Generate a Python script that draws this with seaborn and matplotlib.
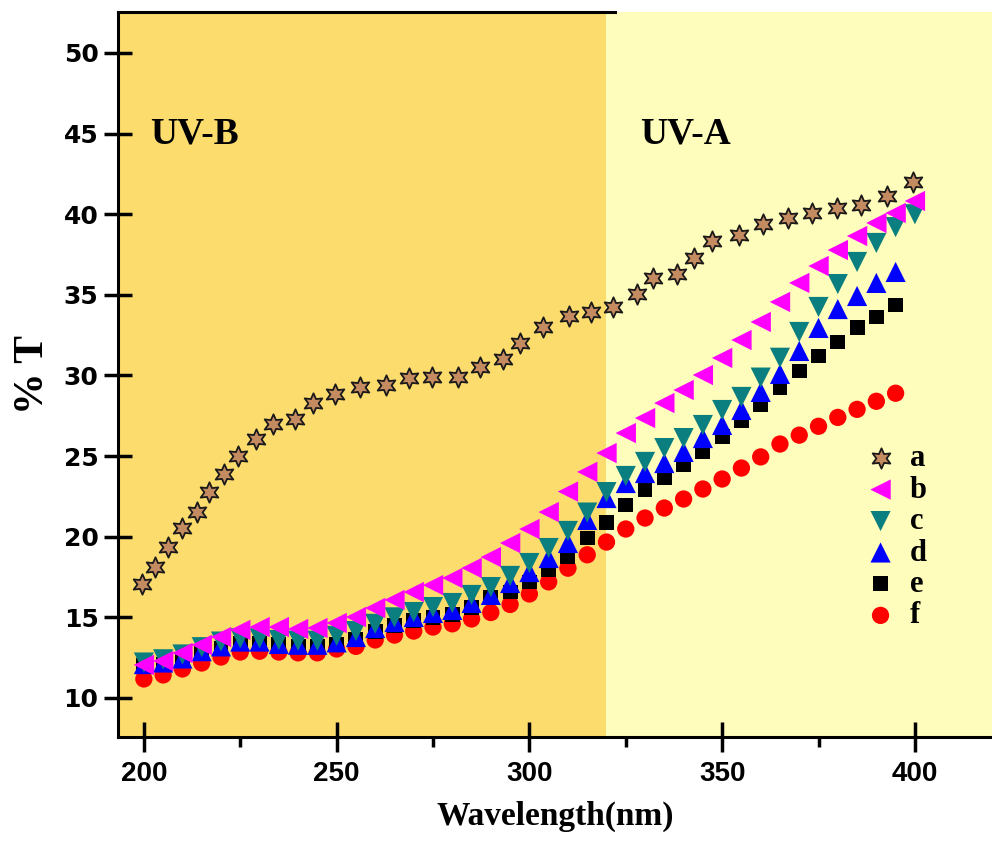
import numpy as np
import pandas as pd
import matplotlib
matplotlib.use("Agg")
import matplotlib.pyplot as plt
import seaborn as sns

# ---------------- data ----------------
wl_a = [199.4, 202.9, 206.2, 209.8, 213.7, 216.9, 220.8, 224.5, 229.0, 233.4,
        239.3, 243.8, 249.7, 256.0, 262.7, 268.8, 274.8, 281.4, 287.3, 293.2,
        297.5, 303.6, 310.2, 316.0, 321.7, 328.0, 332.1, 338.2, 342.7, 347.4,
        354.4, 360.5, 367.0, 373.4, 379.7, 386.0, 392.8, 399.4]
t_a = [17.07, 18.14, 19.34, 20.52, 21.51, 22.76, 23.89, 25.01, 26.04, 26.97,
       27.32, 28.31, 28.85, 29.28, 29.41, 29.86, 29.93, 29.93, 30.51, 31.0,
       32.03, 33.03, 33.71, 33.92, 34.27, 35.04, 36.03, 36.29, 37.31, 38.34,
       38.71, 39.4, 39.79, 40.06, 40.37, 40.57, 41.13, 42.02]

wl_400 = list(range(200, 401, 5))
wl_395 = list(range(200, 396, 5))

t_b = [12.05, 12.29, 12.79, 13.29, 13.78, 14.22, 14.4, 14.4, 14.28, 14.34,
       14.65, 15.02, 15.58, 16.08, 16.57, 17.0, 17.44, 18.06, 18.74, 19.61,
       20.48, 21.53, 22.8, 24.02, 25.19, 26.43, 27.36, 28.29, 29.1, 30.03,
       31.09, 32.2, 33.32, 34.56, 35.74, 36.79, 37.78, 38.65, 39.46, 40.08, 40.82]
t_c = [12.2, 12.4, 12.7, 13.15, 13.5, 13.7, 13.7, 13.6, 13.55, 13.55,
       13.85, 14.15, 14.6, 15.0, 15.33, 15.64, 15.89, 16.39, 16.88, 17.57,
       18.37, 19.3, 20.36, 21.5, 22.77, 23.77, 24.64, 25.5, 26.12, 26.93,
       27.86, 28.67, 29.87, 31.1, 32.7, 34.25, 35.67, 37.04, 38.22, 39.2, 40.0]
t_d = [12.1, 12.2, 12.45, 12.9, 13.2, 13.5, 13.5, 13.35, 13.3, 13.3,
       13.45, 13.78, 14.34, 14.71, 15.02, 15.27, 15.46, 15.89, 16.39, 17.13,
       17.81, 18.68, 19.61, 21.04, 22.4, 23.33, 23.95, 24.57, 25.26, 26.12,
       26.93, 27.86, 28.98, 30.1, 31.52, 32.95, 34.12, 34.93, 35.74, 36.42]
t_e = [12.0, 12.1, 12.35, 12.75, 13.1, 13.4, 13.4, 13.3, 13.2, 13.2,
       13.3, 13.6, 14.1, 14.5, 14.8, 15.0, 15.2, 15.6, 16.26, 16.57,
       17.19, 17.94, 18.74, 19.92, 20.91, 21.97, 22.9, 23.64, 24.45, 25.26,
       26.19, 27.18, 28.17, 29.26, 30.28, 31.21, 32.08, 32.95, 33.63, 34.37]
t_f = [11.18, 11.43, 11.8, 12.17, 12.54, 12.85, 12.9, 12.85, 12.8, 12.8,
       13.04, 13.2, 13.6, 13.9, 14.15, 14.4, 14.6, 14.9, 15.3, 15.8,
       16.45, 17.2, 18.05, 18.88, 19.67, 20.48, 21.16, 21.78, 22.34, 22.96,
       23.58, 24.26, 24.95, 25.75, 26.3, 26.85, 27.4, 27.9, 28.4, 28.9]

labels = ["a", "b", "c", "d", "e", "f"]
x_ticks = [200, 250, 300, 350, 400]
y_ticks = [10, 15, 20, 25, 30, 35, 40, 45, 50]

# ---------------- styling ----------------
sns.set_style("ticks")
plt.rcParams["font.family"] = ["Liberation Sans", "DejaVu Sans"]
for k in ["text.color", "axes.labelcolor", "xtick.color", "ytick.color",
          "axes.edgecolor"]:
    plt.rcParams[k] = "black"

fig = plt.figure(figsize=(9.92, 8.42), dpi=100)
ax = fig.add_axes([0.119, 0.1247, 0.881, 0.861])

xmin, xmax = 193.3, 420.0
ymin, ymax = 7.58, 52.54
ax.axvspan(xmin, 320, color="#FDDC6E", zorder=0, lw=0)
ax.axvspan(320, xmax, color="#FFFDBB", zorder=0, lw=0)

series = {
    "f": (wl_395, t_f, "o", "#FF0000", 155, "none", 0),
    "e": (wl_395, t_e, "s", "#000000", 115, "none", 0),
    "d": (wl_395, t_d, "^", "#0000FF", 210, "none", 0),
    "c": (wl_400, t_c, "v", "#0B7F7F", 210, "none", 0),
    "b": (wl_400, t_b, "<", "#FF00FF", 215, "none", 0),
    "a": (wl_a, t_a, (6, 1, 0), "#C48A60", 215, "#1a1a1a", 1.3),
}
for key, (xs, ys, mk, col, s, ec, lw) in series.items():
    df = pd.DataFrame({"wl": xs, "T": ys})
    sns.scatterplot(data=df, x="wl", y="T", marker=mk, color=col, s=s,
                    edgecolor=ec, linewidth=lw, ax=ax, zorder=3, label=key)

ax.set_xlim(xmin, xmax)
ax.set_ylim(ymin, ymax)
ax.set_xticks(x_ticks)
ax.set_xticks([225, 275, 325, 375], minor=True)
ax.set_yticks(y_ticks)

for sp in ["left", "bottom", "top"]:
    ax.spines[sp].set_linewidth(2.2)
    ax.spines[sp].set_color("black")
ax.spines["right"].set_visible(False)
ax.spines["top"].set_bounds(xmin, 322.2)

ax.tick_params(axis="y", which="major", direction="inout", length=20, width=2.5,
               pad=4, right=False, colors="black")
ax.tick_params(axis="x", which="major", direction="inout", length=22, width=2.5,
               pad=6, top=False, colors="black")
ax.tick_params(axis="x", which="minor", direction="out", length=7, width=2.5,
               top=False, colors="black")

for lab in ax.get_yticklabels():
    lab.set_fontfamily("DejaVu Sans")
    lab.set_fontweight("bold")
    lab.set_fontsize(18)
for lab in ax.get_xticklabels():
    lab.set_fontfamily("Liberation Sans")
    lab.set_fontweight("bold")
    lab.set_fontsize(20)

serif = "Liberation Serif"
ax.set_xlabel("Wavelength(nm)", fontfamily=serif, fontweight="bold", fontsize=24,
              labelpad=10, color="black")
ax.set_ylabel("% T", fontfamily=serif, fontweight="bold", fontsize=30, labelpad=8,
              color="black")

ax.text(201.6, 45.0, "UV-B", fontfamily=serif, fontweight="bold", fontsize=27,
        va="center", ha="left", color="black")
ax.text(328.7, 45.0, "UV-A", fontfamily=serif, fontweight="bold", fontsize=27,
        va="center", ha="left", color="black")

h, l = ax.get_legend_handles_labels()
order = [l.index(k) for k in labels]
ax.legend([h[i] for i in order], [l[i] for i in order], loc="upper left",
          bbox_to_anchor=(0.834, 0.425), frameon=False,
          prop={"family": serif, "weight": "bold", "size": 22},
          labelspacing=0.08, handletextpad=0.35, borderpad=0, handlelength=1.2)

fig.savefig("out.png", dpi=100)
